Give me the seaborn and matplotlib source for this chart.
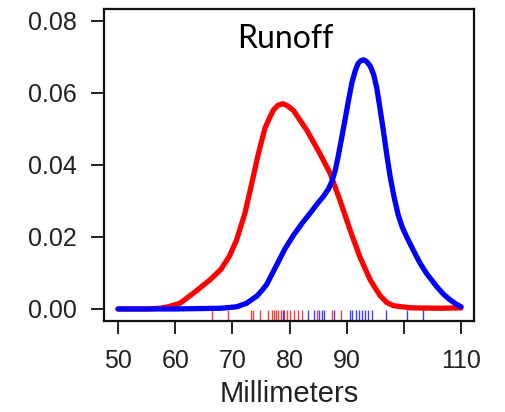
import matplotlib
matplotlib.use("Agg")
import matplotlib.pyplot as plt
import seaborn as sns
import pandas as pd

# ---- data ----
red_x = [50, 55, 57.35, 59, 60.85, 63.2, 66.1, 68.0, 69.5, 70.75, 72.2, 73.4, 74.5, 75.7,
         76.6, 77.2, 78.0, 78.8, 79.6, 80.7, 83.0, 85.2, 87.1, 88.8, 90.6, 92.3, 94.1,
         95.8, 97.0, 98.2, 101.3, 106.3, 110]
red_y = [0, 0.0000, 0.0002, 0.0007, 0.0016, 0.0044, 0.0081, 0.0110, 0.0147, 0.0192, 0.0266,
         0.0349, 0.0428, 0.0502, 0.0534, 0.0553, 0.0566, 0.0570, 0.0565, 0.0551, 0.0497,
         0.0435, 0.0377, 0.0303, 0.0219, 0.0145, 0.0081, 0.0038, 0.0018, 0.0009, 0.0003,
         0.0002, 0.0003]

blue_x = [50, 60, 68, 70.75, 72.5, 74.3, 75.2, 76.0, 77.75, 79.2, 80.7, 82.3, 83.6, 85.0,
          85.9, 86.8, 87.4, 88.0, 88.5, 89.1, 89.7, 90.3, 90.9, 91.5, 92.0, 92.5, 93.0,
          93.5, 94.1, 94.7, 95.25, 95.8, 96.4, 97.0, 97.6, 98.3, 99.0, 99.7, 100.5, 101.6,
          102.8, 104.0, 105.75, 107.0, 108.1, 109.2, 110]
blue_y = [0, 0, 0.0002, 0.0006, 0.0016, 0.0036, 0.0052, 0.0068, 0.0122, 0.0167, 0.0205,
          0.0240, 0.0266, 0.0295, 0.0312, 0.0333, 0.0354, 0.0385, 0.0423, 0.0473, 0.0525,
          0.0578, 0.0627, 0.0662, 0.0682, 0.0690, 0.0692, 0.0687, 0.0675, 0.0652, 0.0615,
          0.0560, 0.0497, 0.0430, 0.0368, 0.0310, 0.0262, 0.0228, 0.0200, 0.0165, 0.0128,
          0.0098, 0.0062, 0.0040, 0.0025, 0.0013, 0.0006]

red_rug = [66.4, 69.2, 73.2, 73.6, 74.8, 76.2, 76.9, 77.3, 77.6, 78.0, 78.5, 79.0, 79.6,
           80.1, 80.7, 81.5, 82.1, 84.75, 87.4, 89.0]
blue_rug = [78.8, 83.3, 84.2, 85.2, 85.6, 86.0, 87.7, 90.5, 91.0, 91.6, 92.2, 92.6, 93.2,
            93.8, 94.4, 96.9, 100.5, 103.3]

x_ticks = [50, 60, 70, 80, 90, 100, 110]
x_tick_labels = ["50", "60", "70", "80", "90", "", "110"]
y_ticks = [0.00, 0.02, 0.04, 0.06, 0.08]
y_tick_labels = ["0.00", "0.02", "0.04", "0.06", "0.08"]
title_text = "Runoff"
x_label = "Millimeters"

# ---- plot ----
sns.set_theme(style="ticks")
plt.rcParams["font.family"] = ["Liberation Sans", "DejaVu Sans"]

fig = plt.figure(figsize=(5.05, 4.12), dpi=100)
ax = fig.add_axes([0.206, 0.221, 0.7326, 0.757])

red_df = pd.DataFrame({"x": red_x, "y": red_y})
blue_df = pd.DataFrame({"x": blue_x, "y": blue_y})

sns.lineplot(data=red_df, x="x", y="y", color="#FF0000", lw=3.8, ax=ax,
             solid_capstyle="round", solid_joinstyle="round", sort=True)
sns.lineplot(data=blue_df, x="x", y="y", color="#0000FF", lw=3.8, ax=ax,
             solid_capstyle="round", solid_joinstyle="round", sort=True)

sns.rugplot(x=red_rug, color="#FF0000", height=0.036, lw=1.4, alpha=0.75, ax=ax)
sns.rugplot(x=blue_rug, color="#0000FF", height=0.036, lw=1.4, alpha=0.75, ax=ax)

ax.set_xlim(47.55, 112.27)
ax.set_ylim(-0.00333, 0.0833)

ax.set_xticks(x_ticks)
ax.set_xticklabels(x_tick_labels)
ax.set_yticks(y_ticks)
ax.set_yticklabels(y_tick_labels)

ax.tick_params(axis="both", which="major", labelsize=18, length=9.5, width=1.4,
               color="#222222", labelcolor="#222222")
ax.tick_params(axis="x", pad=11)
ax.tick_params(axis="y", pad=10)

for s in ax.spines.values():
    s.set_visible(True)
    s.set_linewidth(1.6)
    s.set_color("#111111")

ax.set_xlabel(x_label, fontsize=21, color="#222222", labelpad=5)
ax.set_ylabel("")

ax.text(79.2, 0.0725, title_text, ha="center", va="baseline", fontsize=23,
        family=["Lato", "DejaVu Sans"], color="black")

fig.savefig("out.png", dpi=100)
